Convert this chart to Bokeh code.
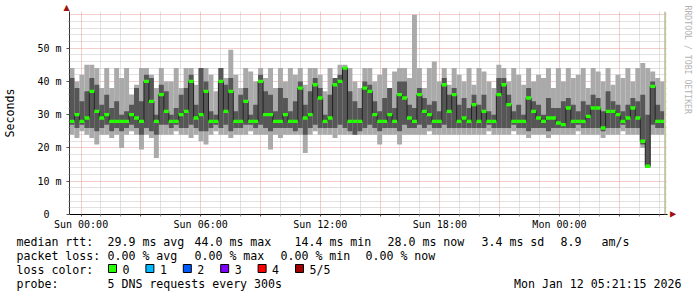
import numpy as np
from bokeh.plotting import figure
from bokeh.layouts import column
from bokeh.models import Range1d, FixedTicker, Grid, Span, Title
from bokeh.core.properties import value
from bokeh.embed import file_html
from bokeh.resources import INLINE

# ---------------- data (ms); time in hours after Sun 00:00 ----------------
t_start = -0.58          # left edge of graph (Sat 23:25)
t_now = 29.3             # last update (Mon 05:21)
t_end = 29.42
n_cols = 120             # 15-minute consolidated columns

# smoke: 5 sorted pings per step -> lo (ping1), dlo (ping2), med (ping3), dhi (ping4), hi (ping5)
lo = [24, 23, 25, 24, 23, 21, 24, 24, 23, 24, 20, 24, 25, 24, 19.5, 24, 23, 17, 24, 24,
      24, 25, 24, 24, 23, 24, 22, 21, 24, 25, 24, 24, 23, 24, 24, 24, 25, 24, 24, 24,
      19.5, 24, 23, 24, 24, 24, 24, 18.5, 24, 25, 24, 24, 24, 23, 24, 24, 24, 24, 24, 24,
      24, 24, 21, 24, 24, 24, 21, 24, 24, 24, 24, 24, 25, 24, 24, 24, 24, 24, 24, 24,
      24, 24, 24, 24, 25, 24, 24, 24, 24, 25, 24, 24, 23, 24, 24, 24, 23, 24, 24, 24,
      24, 24, 25, 24, 24, 24, 24, 23, 24, 24, 24, 25, 24, 24, 24, 20, 14, 24, 24, 24]
dlo = [27, 26, 27, 26, 26, 25, 26, 27, 25, 26, 25, 26, 27, 26, 24, 26, 25, 24, 27, 27,
       26, 27, 26, 26, 27, 26, 25, 25, 26, 27, 26, 27, 25, 26, 26, 27, 27, 26, 27, 26,
       25, 26, 26, 26, 26, 25, 26, 24, 26, 27, 26, 26, 26, 26, 27, 26, 25, 24, 25, 26,
       27, 26, 25, 26, 26, 26, 25, 27, 26, 26, 27, 26, 27, 26, 26, 27, 26, 26, 26, 26,
       26, 26, 26, 26, 27, 26, 26, 26, 26, 27, 26, 26, 25, 26, 26, 26, 25, 26, 26, 26,
       26, 26, 27, 26, 26, 26, 26, 25, 26, 26, 26, 27, 26, 26, 26, 21, 14, 27, 26, 26]
med = [28, 30, 28, 29, 37, 31, 29, 30, 28, 28, 28, 28, 30, 29, 28, 40, 34, 28, 36, 31,
       28, 28, 30, 31, 40, 29, 30, 37, 28, 28, 40, 31, 37, 28, 28, 34, 28, 28, 40, 30,
       30, 28, 28, 30, 28, 28, 38, 29, 30, 39, 35, 28, 29, 39, 40, 44, 28, 28, 28, 38,
       37, 30, 28, 28, 30, 28, 36, 35, 29, 28, 36, 31, 30, 28, 28, 39, 31, 36, 28, 29,
       28, 33, 28, 31, 28, 28, 36, 39, 33, 28, 28, 28, 35, 31, 29, 28, 29, 29, 27.5, 27,
       32, 28, 28, 28, 29.5, 32, 32, 26, 31, 31, 30, 28, 29, 32, 29, 22, 14.5, 38.5, 28, 28]
dhi = [41, 38, 34, 37, 41, 39, 33, 36, 32, 34, 30, 31, 33, 38, 34, 42, 41, 30, 39, 37,
       30, 32, 36, 38, 42, 33, 44, 40, 31, 30, 44, 39, 41, 31, 36, 38, 30, 33, 42, 37,
       36, 31, 38, 35, 31, 34, 40, 33, 37, 41, 38, 30, 36, 41, 42, 44, 37, 34, 32, 40,
       39, 34, 31, 35, 38, 32, 40, 40, 33, 32, 38, 35, 33, 34, 31, 41, 36, 38, 33, 35,
       32, 36, 33, 36, 31, 30, 41, 41, 36, 31, 33, 30, 38, 34, 33, 30, 35, 32, 32, 34,
       35, 33, 31, 34, 33, 36, 35, 31, 37, 34, 33, 31, 33, 35, 34, 36, 30, 40, 33, 31]
hi = [44, 40, 42, 45, 45, 44, 38, 44, 38, 44, 41, 44, 36, 39, 44, 44, 42, 38, 44, 40,
      40, 44, 38, 44, 44, 39, 44, 44, 42, 37, 44, 41, 49.5, 42, 38, 44, 43, 40, 44, 41,
      44, 38, 44, 40, 44, 42, 44, 39, 44, 44, 42, 37, 44, 41, 45, 45, 44, 40, 38, 44,
      44, 40, 42, 44, 38, 43, 44, 44, 41, 60, 44, 38, 44, 46, 40, 44, 39, 44, 42, 40,
      44, 39, 44, 43, 40, 38, 45, 44, 40, 44, 42, 39, 44, 40, 42, 41, 44, 38, 44, 40,
      44, 41, 42, 44, 38, 44, 43, 40, 44, 39, 42, 41, 44, 40, 44, 45.5, 44, 43, 41, 40]

y_ticks = [0, 10, 20, 30, 40, 50]
y_tick_labels = ["0\u00a0\u00a0", "10 m", "20 m", "30 m", "40 m", "50 m"]
x_label_hours = [0, 6, 12, 18, 24]
x_tick_labels = ["Sun 00:00", "Sun 06:00", "Sun 12:00", "Sun 18:00", "Mon 00:00"]

rtt_stats = ["29.9 ms avg", "44.0 ms max", "14.4 ms min", "28.0 ms now", "3.4 ms sd", "8.9", "am/s"]
loss_stats = ["0.00 % avg", "0.00 % max", "0.00 % min", "0.00 % now"]
loss_names = ["0", "1", "2", "3", "4", "5/5"]
loss_colors = ["#26ff00", "#00b8ff", "#0059ff", "#7e00ff", "#ff0000", "#a10000"]
probe_text = "5 DNS requests every 300s"
stamp_text = "Mon Jan 12 05:21:15 2026"
watermark = "RRDTOOL / TOBI OETIKER"

MONO = "DejaVu Sans Mono"
W = 697
MAIN_H = 232           # graph part of the canvas
LEG_H = 297 - MAIN_H   # legend strip below
FRAME_B = 215          # canvas y of the x axis

# ---------------- main graph ----------------
p = figure(width=W, height=MAIN_H, output_backend="svg", toolbar_location=None,
           x_range=Range1d(t_start, t_end), y_range=Range1d(0, 61),
           min_border_left=67, min_border_right=30, min_border_top=11,
           min_border_bottom=MAIN_H - FRAME_B)
p.frame_align = False
p.outline_line_color = None
p.background_fill_color = "white"
p.border_fill_color = "white"
p.xgrid.visible = False
p.ygrid.visible = False

hours_all = list(range(0, 30))
x_major = [h for h in hours_all if h % 3 == 0]
x_minor = [h for h in hours_all if h % 3 != 0]
y_minor = [v for v in range(2, 62, 2) if v % 10 != 0]
y_major = list(range(0, 70, 10))

for ticks, dim, color in [(x_minor, 0, "#c4c4c4"), (y_minor, 1, "#c4c4c4"),
                          (x_major, 0, "#e89a9a"), (y_major, 1, "#e89a9a")]:
    p.add_layout(Grid(dimension=dim, ticker=FixedTicker(ticks=ticks), grid_line_color=color,
                      grid_line_dash="1 1", grid_line_width=1))

edges = t_start + (t_now - t_start) * np.arange(n_cols + 1) / n_cols
left, right = edges[:-1], edges[1:]

p.quad(left=left, right=right, bottom=lo, top=hi, fill_color="#aaaaaa", line_color=None)
p.quad(left=left, right=right, bottom=dlo, top=dhi, fill_color="#565656", line_color=None)
p.step(x=list(edges), y=list(med) + [med[-1]], mode="after", line_color="#202020", line_width=1)
med_arr = np.array(med, dtype=float)
p.quad(left=left, right=right, bottom=med_arr - 0.5, top=med_arr + 0.5,
       fill_color="#26ff00", line_color=None)

p.add_layout(Span(location=t_now, dimension="height", line_color="#c6c6a6", line_width=2))

xa = p.xaxis[0]
xa.ticker = FixedTicker(ticks=x_major, minor_ticks=x_minor)
xa.major_label_overrides = {h: (x_tick_labels[x_label_hours.index(h)] if h in x_label_hours else "")
                            for h in x_major}
xa.major_label_text_font = MONO
xa.major_label_text_font_size = "10px"
xa.major_label_text_color = "black"
xa.major_label_standoff = 2
xa.major_tick_in = 0
xa.major_tick_out = 2
xa.minor_tick_in = 0
xa.minor_tick_out = 2
xa.axis_line_color = "black"
xa.major_tick_line_color = "#555555"
xa.minor_tick_line_color = "#999999"

ya = p.yaxis[0]
ya.ticker = FixedTicker(ticks=y_ticks, minor_ticks=y_minor)
ya.major_label_overrides = dict(zip(y_ticks, y_tick_labels))
ya.major_label_text_font = MONO
ya.major_label_text_font_size = "10px"
ya.major_label_text_color = "black"
ya.major_label_standoff = 5
ya.major_tick_in = 0
ya.major_tick_out = 3
ya.minor_tick_in = 0
ya.minor_tick_out = 1
ya.axis_line_color = "#333333"
ya.major_tick_line_color = "#555555"
ya.minor_tick_line_color = "#999999"
ya.axis_label = "Seconds"
ya.axis_label_text_font = MONO
ya.axis_label_text_font_size = "11.6px"
ya.axis_label_text_font_style = "normal"
ya.axis_label_text_color = "black"
ya.axis_label_standoff = 17

# axis arrow heads (as side-panel titles so they are not clipped by the frame)
p.add_layout(Title(text="\u25b2", align="left", offset=-6, standoff=0,
                   text_font="DejaVu Sans", text_font_size="8px", text_font_style="normal",
                   text_color="#a01010", vertical_align="bottom"), "above")
p.add_layout(Title(text="\u25b2", align="right", offset=-3, standoff=0,
                   text_font="DejaVu Sans", text_font_size="8px", text_font_style="normal",
                   text_color="#a01010", vertical_align="middle"), "right")
p.add_layout(Title(text=watermark, align="left", offset=-6, standoff=6,
                   text_font=MONO, text_font_size="8.2px", text_font_style="normal",
                   text_color="#b4b4b4", vertical_align="middle"), "right")

# ---------------- legend strip (canvas pixel coordinates) ----------------
q = figure(width=W, height=LEG_H, output_backend="svg", toolbar_location=None,
           x_range=Range1d(0, W), y_range=Range1d(297, MAIN_H),
           min_border=0, min_border_left=0, min_border_right=0,
           min_border_top=0, min_border_bottom=0)
q.frame_align = False
q.axis.visible = False
q.xgrid.visible = False
q.ygrid.visible = False
q.outline_line_color = None
q.background_fill_color = "white"
q.border_fill_color = "white"

tx, ty, tt = [], [], []


def put(x, y, s):
    tx.append(x)
    ty.append(y)
    tt.append(s)


put(16, 241, "median rtt:")
for xc, s in zip([107, 194, 294, 387, 481, 560, 601], rtt_stats):
    put(xc, 241, s)
put(16, 255, "packet loss:")
for xc, s in zip([107, 194, 280, 365], loss_stats):
    put(xc, 255, s)
put(16, 269, "loss color:")
sq_x = [108 + 37.4 * i for i in range(len(loss_names))]
for sx, name in zip(sq_x, loss_names):
    put(sx + 14, 269, name)
put(16, 283, "probe:")
put(107, 283, probe_text)

q.text(x=tx, y=ty, text=tt, text_font=value(MONO), text_font_size=value("11.6px"),
       text_color="black", text_baseline="middle", text_align="left")
q.text(x=[681], y=[283], text=[stamp_text], text_font=value(MONO),
       text_font_size=value("11.6px"), text_color="black", text_baseline="middle",
       text_align="right")
q.quad(left=sq_x, right=[s + 8 for s in sq_x], top=[264] * len(sq_x), bottom=[272] * len(sq_x),
       fill_color=loss_colors, line_color="black", line_width=1)

layout = column(p, q, spacing=0)
open("out.html", "w").write(file_html(layout, INLINE))
